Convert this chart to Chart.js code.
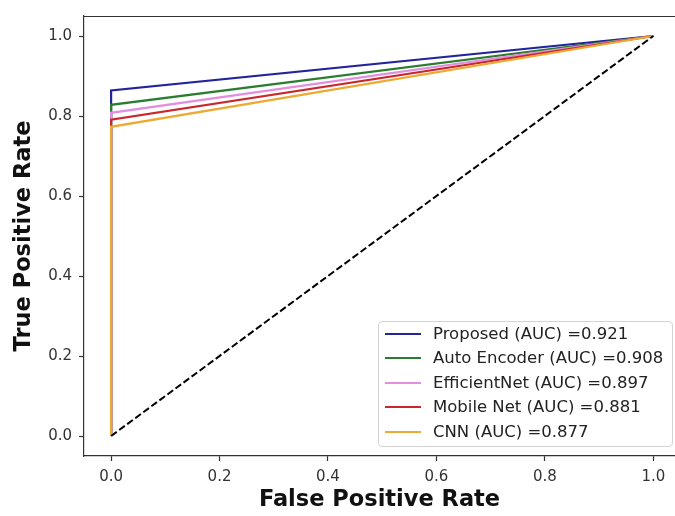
<!DOCTYPE html>
<html>
<head>
<meta charset="utf-8">
<script src="https://cdn.jsdelivr.net/npm/chart.js@4"></script>
<style>
  html, body { margin: 0; padding: 0; background: #fff; overflow: hidden; }
  #wrap { position: relative; width: 675px; height: 516px; }
  #legend {
    position: absolute; left: 378px; top: 321px; width: 295px; height: 126px;
    border: 1px solid #d4d4d4; border-radius: 4px; background: rgba(255,255,255,0.85);
    font-family: "DejaVu Sans", sans-serif; font-size: 16.5px; color: #222; box-sizing: border-box;
  }
  .row { position: absolute; left: 0; height: 24px; width: 100%; }
  .swatch { position: absolute; left: 6px; top: 11px; width: 36px; height: 2px; }
  .lab { position: absolute; left: 54px; top: 2px; white-space: nowrap; line-height: 20px; }
</style>
</head>
<body>
<div id="wrap">
  <canvas id="c" width="675" height="516"></canvas>
  <div id="legend"></div>
</div>
<script>
// ---- data ----
const modelNames = ["Proposed", "Auto Encoder", "EfficientNet", "Mobile Net", "CNN"];
const aucValues = [0.921, 0.908, 0.897, 0.881, 0.877];
const fprPoints = [0, 0, 1];
const tprProposed = [0, 0.864, 1];
const tprAutoEncoder = [0, 0.828, 1];
const tprEfficientNet = [0, 0.808, 1];
const tprMobileNet = [0, 0.791, 1];
const tprCNN = [0, 0.773, 1];
const diagFpr = [0, 1];
const diagTpr = [0, 1];
const xTickValues = [0, 0.2, 0.4, 0.6, 0.8, 1.0];
const yTickValues = [0, 0.2, 0.4, 0.6, 0.8, 1.0];

const tprSeries = [tprProposed, tprAutoEncoder, tprEfficientNet, tprMobileNet, tprCNN];
const colors = ["#23239a", "#2a7d2e", "#e28fe0", "#c8282c", "#ecaa33"];

function pts(xs, ys) { return xs.map((x, i) => ({ x: x, y: ys[i] })); }

const datasets = modelNames.map((n, i) => ({
  label: n + " (AUC) =" + aucValues[i].toFixed(3),
  data: pts(fprPoints, tprSeries[i]),
  borderColor: colors[i],
  backgroundColor: colors[i],
  borderWidth: 2.2,
  showLine: true,
  pointRadius: 0,
  fill: false,
  tension: 0,
  order: modelNames.length - i
}));
datasets.push({
  label: "chance",
  data: pts(diagFpr, diagTpr),
  borderColor: "#000",
  borderWidth: 2,
  borderDash: [7, 3],
  showLine: true,
  pointRadius: 0,
  fill: false,
  order: -1
});

const FONT = '"DejaVu Sans", sans-serif';

const topFrame = {
  id: 'topFrame',
  afterDatasetsDraw(chart) {
    const a = chart.chartArea, ctx = chart.ctx;
    ctx.save();
    ctx.strokeStyle = '#333';
    ctx.lineWidth = 1.2;
    ctx.beginPath();
    ctx.moveTo(a.left, a.top + 0.5);
    ctx.lineTo(a.right, a.top + 0.5);
    ctx.stroke();
    ctx.restore();
  }
};

const chart = new Chart(document.getElementById('c'), {
  type: 'scatter',
  data: { datasets: datasets },
  plugins: [topFrame],
  options: {
    responsive: false,
    devicePixelRatio: 1,
    animation: false,
    layout: { padding: { top: 9, left: 0, right: 0, bottom: 0 } },
    plugins: { legend: { display: false }, tooltip: { enabled: false } },
    scales: {
      x: {
        type: 'linear', min: -0.05, max: 1.04,
        afterBuildTicks: s => { s.ticks = xTickValues.map(v => ({ value: v })); },
        afterFit: s => { s.height = 60; },
        grid: { drawOnChartArea: false, drawTicks: true, tickLength: 5, tickColor: '#333', tickWidth: 1.2 },
        border: { display: true, color: '#333', width: 1.2 },
        ticks: { color: '#333', padding: 7, font: { family: FONT, size: 15 }, callback: v => Number(v).toFixed(1), maxRotation: 0 },
        title: { display: true, text: 'False Positive Rate', color: '#111', font: { family: FONT, size: 22.5, weight: 'bold' }, padding: { top: 0, bottom: 2 } }
      },
      y: {
        type: 'linear', min: -0.05, max: 1.05,
        afterBuildTicks: s => { s.ticks = yTickValues.map(v => ({ value: v })); },
        afterFit: s => { s.width = 84; },
        grid: { drawOnChartArea: false, drawTicks: true, tickLength: 5, tickColor: '#333', tickWidth: 1.2 },
        border: { display: true, color: '#333', width: 1.2 },
        ticks: { color: '#333', padding: 7, font: { family: FONT, size: 15 }, callback: v => Number(v).toFixed(1) },
        title: { display: true, text: 'True Positive Rate', color: '#111', font: { family: FONT, size: 22.5, weight: 'bold' }, padding: { top: 11, bottom: 0 } }
      }
    }
  }
});

// HTML legend built from the chart's datasets
const legend = document.getElementById('legend');
chart.data.datasets.slice(0, modelNames.length).forEach((ds, i) => {
  const row = document.createElement('div');
  row.className = 'row';
  row.style.top = (0 + i * 24.4) + 'px';
  const sw = document.createElement('div');
  sw.className = 'swatch';
  sw.style.background = ds.borderColor;
  const lab = document.createElement('div');
  lab.className = 'lab';
  lab.textContent = ds.label;
  row.appendChild(sw); row.appendChild(lab);
  legend.appendChild(row);
});
</script>
</body>
</html>
